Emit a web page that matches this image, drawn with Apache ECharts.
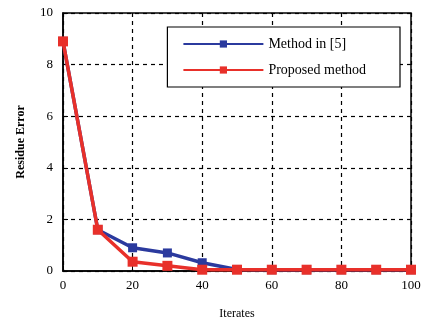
<!DOCTYPE html>
<html>
<head>
<meta charset="utf-8">
<script src="https://cdn.jsdelivr.net/npm/echarts@6/dist/echarts.min.js"></script>
<style>
  html, body { margin: 0; padding: 0; background: #fff; }
  #chart { width: 421px; height: 323px; }
</style>
</head>
<body>
<div id="chart"></div>
<script>
const iterates = [0, 10, 20, 30, 40, 50, 60, 70, 80, 90, 100];
const methodRef = [8.9, 1.6, 0.9, 0.7, 0.32, 0.06, 0.05, 0.05, 0.05, 0.05, 0.05];
const proposed = [8.9, 1.6, 0.36, 0.2, 0.05, 0.05, 0.05, 0.05, 0.05, 0.05, 0.05];

const font = 'Liberation Serif';
let chart = echarts.init(document.getElementById('chart'));

const pairs = (ys) => iterates.map((x, i) => [x, ys[i]]);
const dashed = { show: true, lineStyle: { color: '#000', type: [4, 4], width: 1.2 } };

chart.setOption({
    animation: false,
    textStyle: { fontFamily: font },
    grid: {
        left: 63, right: 10, top: 13, bottom: 52,
        outerBoundsMode: 'none',
        show: true, borderColor: '#000', borderWidth: 1.5
    },
    legend: {
        orient: 'vertical',
        right: 21, top: 27,
        itemWidth: 80, itemHeight: 9,
        itemGap: 12,
        padding: [10, 34, 10, 15],
        borderColor: '#000', borderWidth: 1.2,
        backgroundColor: '#fff',
        textStyle: { fontFamily: font, fontSize: 14, color: '#000' },
        data: ['Method in [5]', 'Proposed method']
    },
    xAxis: {
        type: 'value',
        min: 0, max: 100, interval: 20,
        name: 'Iterates',
        nameLocation: 'middle', nameGap: 37,
        nameTextStyle: { fontFamily: font, fontSize: 12, color: '#000' },
        axisLine: { lineStyle: { color: '#000', width: 1.5 } },
        axisTick: { inside: true, lineStyle: { color: '#000' } },
        axisLabel: { color: '#000', fontSize: 13, margin: 8 },
        splitLine: dashed
    },
    yAxis: {
        type: 'value',
        min: 0, max: 10, interval: 2,
        name: 'Residue Error',
        nameLocation: 'middle', nameGap: 36,
        nameTextStyle: { fontFamily: font, fontSize: 12, color: '#000', fontWeight: 'bold' },
        axisLine: { show: true, lineStyle: { color: '#000', width: 1.5 } },
        axisTick: { show: true, inside: true, lineStyle: { color: '#000' } },
        axisLabel: { color: '#000', fontSize: 13, margin: 10 },
        splitLine: dashed
    },
    series: [
        {
            name: 'Method in [5]',
            type: 'line',
            data: pairs(methodRef),
            symbol: 'rect', symbolSize: 9,
            lineStyle: { color: '#2b3a9e', width: 3.5 },
            itemStyle: { color: '#2b3a9e' },
            z: 2
        },
        {
            name: 'Proposed method',
            type: 'line',
            data: pairs(proposed),
            symbol: 'rect', symbolSize: 10,
            lineStyle: { color: '#e8302a', width: 3.5 },
            itemStyle: { color: '#e8302a' },
            z: 3
        }
    ]
});
</script>
</body>
</html>
